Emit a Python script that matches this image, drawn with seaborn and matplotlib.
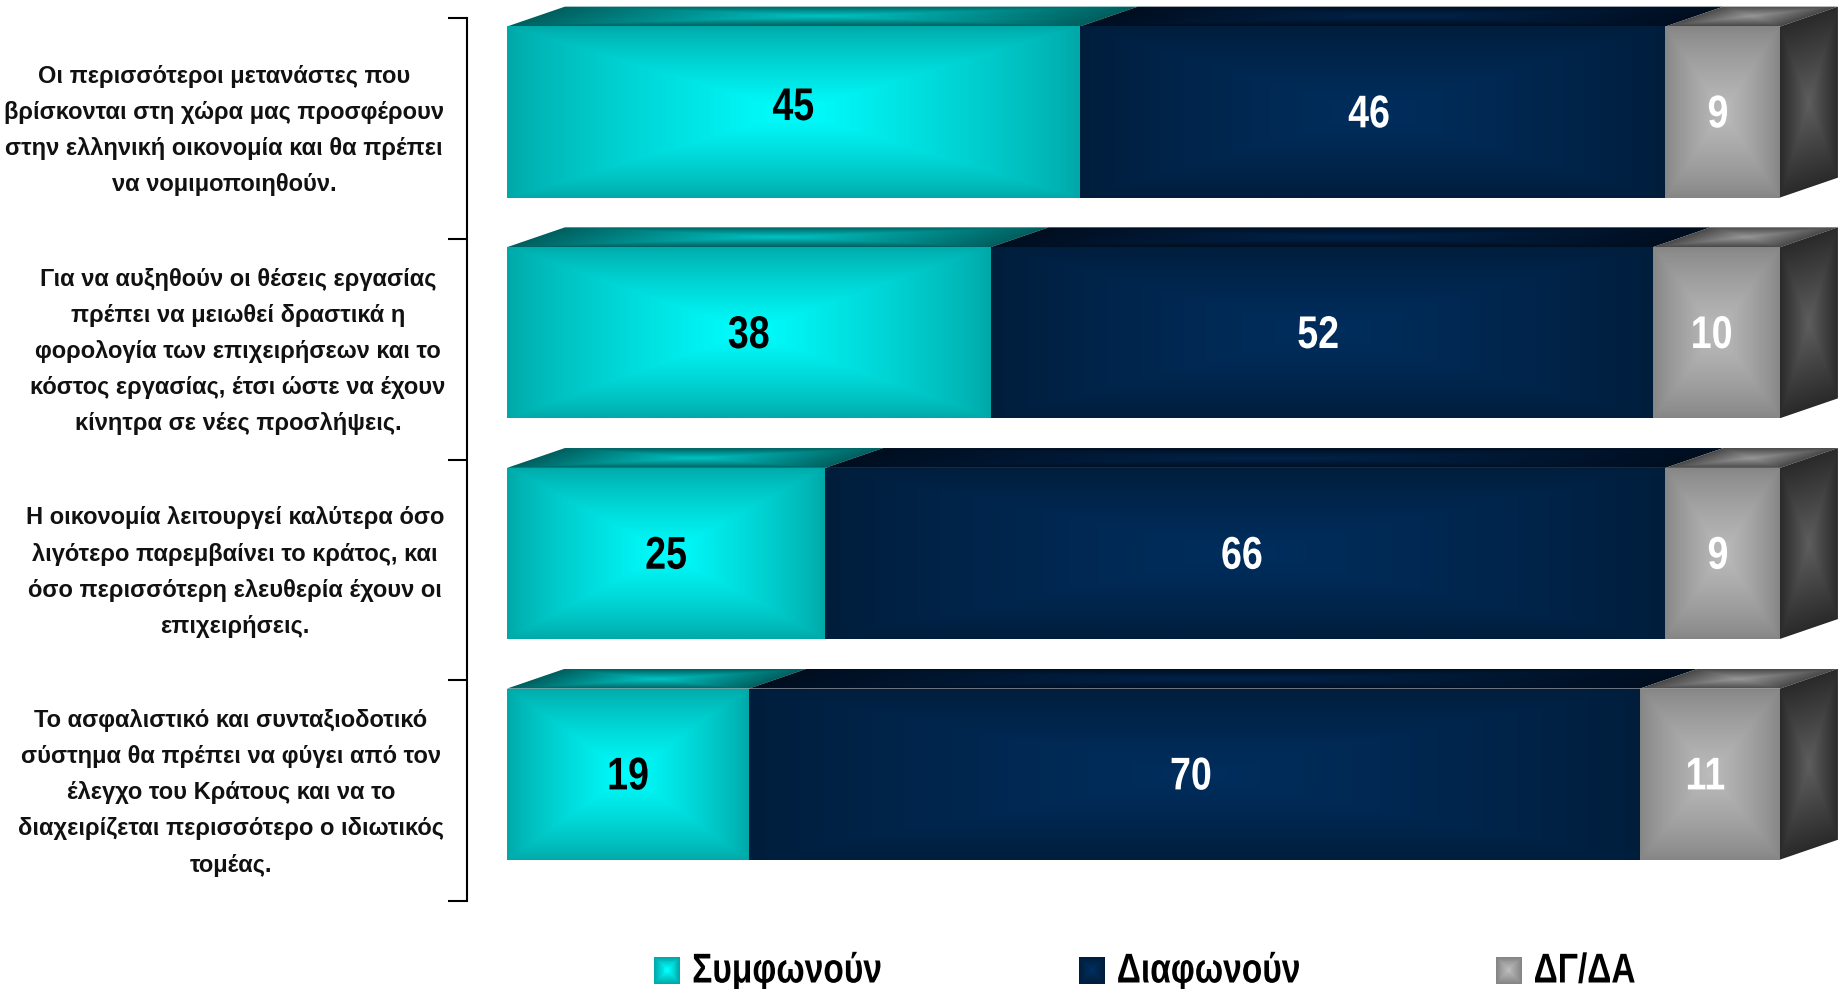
import matplotlib
matplotlib.use("Agg")
import matplotlib.pyplot as plt
from matplotlib.legend_handler import HandlerBase
from matplotlib.patches import Patch, Polygon, Rectangle
from matplotlib.patheffects import AbstractPathEffect
from matplotlib.transforms import Affine2D
from matplotlib.colors import to_rgb
import seaborn as sns
import numpy as np

# == DATA ==
statements = [
    "Οι περισσότεροι μετανάστες που\nβρίσκονται στη χώρα μας προσφέρουν\nστην ελληνική οικονομία και θα πρέπει\nνα νομιμοποιηθούν.",
    "Για να αυξηθούν οι θέσεις εργασίας\nπρέπει να μειωθεί δραστικά η\nφορολογία των επιχειρήσεων και το\nκόστος εργασίας, έτσι ώστε να έχουν\nκίνητρα σε νέες προσλήψεις.",
    "Η οικονομία λειτουργεί καλύτερα όσο\nλιγότερο παρεμβαίνει το κράτος, και\nόσο περισσότερη ελευθερία έχουν οι\nεπιχειρήσεις.",
    "Το ασφαλιστικό και συνταξιοδοτικό\nσύστημα θα πρέπει να φύγει από τον\nέλεγχο του Κράτους και να το\nδιαχειρίζεται περισσότερο ο ιδιωτικός\nτομέας.",
]
agree = [45, 38, 25, 19]
disagree = [46, 52, 66, 70]
dont_know = [9, 10, 9, 11]

series_names = ["Συμφωνούν", "Διαφωνούν", "ΔΓ/ΔΑ"]
series_values = [agree, disagree, dont_know]

# == STYLE ==
# (edge, centre) of each gradient
FRONT = [("#00a8a8", "#00ffff"), ("#001d3b", "#002e5e"), ("#858585", "#bcbcbc")]
TOP = [("#005f5f", "#00c4c4"), ("#000e20", "#00234a"), ("#484848", "#989898")]
SIDE = ("#2a2a2a", "#5e5e5e")
TEXT_COLORS = ["black", "white", "white"]
VALUE_NUDGE_X = [0.0, -0.27, -0.37]  # data units, per series
LABEL_CENTRES = [224, 238, 235, 231]  # px, left labels are not on one centre line

# 3D depth of the bars, in data units
DEPTH_X = 4.55
DEPTH_Y = 0.09


class Condense(AbstractPathEffect):
    # squeeze the glyphs sideways, there is no narrow bold font installed
    def __init__(self, factor, anchor="center"):
        super().__init__()
        self.factor = factor
        self.anchor = anchor

    def draw_path(self, renderer, gc, tpath, affine, rgbFace=None):
        box = tpath.get_extents()
        cx = box.x0 if self.anchor == "left" else (box.x0 + box.x1) / 2
        squeeze = Affine2D().translate(-cx, 0).scale(self.factor, 1).translate(cx, 0)
        renderer.draw_path(gc, tpath, squeeze + affine, rgbFace)


def blend(edge, centre, t):
    edge = np.array(to_rgb(edge))
    centre = np.array(to_rgb(centre))
    return edge + (centre - edge) * t[..., None]


def face(ax, corners, colors, power=1.0, n=160):
    """Fill a parallelogram with a rectangular gradient, clipped to its outline."""
    corners = np.array(corners, dtype=float)
    a, b, d = corners[0], corners[1], corners[3]
    xmin, ymin = corners.min(axis=0)
    xmax, ymax = corners.max(axis=0)
    gx, gy = np.meshgrid(np.linspace(xmin, xmax, n), np.linspace(ymin, ymax, n))
    m = np.linalg.inv(np.column_stack([b - a, d - a]))
    u = m[0, 0] * (gx - a[0]) + m[0, 1] * (gy - a[1])
    v = m[1, 0] * (gx - a[0]) + m[1, 1] * (gy - a[1])
    t = 1 - np.clip(np.maximum(np.abs(2 * u - 1), np.abs(2 * v - 1)), 0, 1)
    img = ax.imshow(blend(colors[0], colors[1], t ** power), extent=(xmin, xmax, ymax, ymin),
                    aspect="auto", interpolation="bilinear", origin="upper", zorder=3)
    outline = Polygon(corners, closed=True, facecolor="none", edgecolor="none")
    ax.add_patch(outline)
    outline.set_clip_on(False)
    img.set_clip_box(ax.figure.bbox)
    img.set_clip_path(outline)


class GradientSquare(HandlerBase):
    # legend key made of concentric squares
    def __init__(self, colors):
        super().__init__()
        self.colors = colors

    def create_artists(self, legend, orig_handle, xdescent, ydescent, width, height, fontsize, trans):
        artists = []
        steps = 14
        for i in range(steps):
            f = 1 - i / steps
            t = np.array(i / (steps - 1))
            w, h = width * f, height * f
            artists.append(Rectangle((xdescent + (width - w) / 2, ydescent + (height - h) / 2), w, h,
                                     facecolor=blend(self.colors[0], self.colors[1], t), edgecolor="none",
                                     transform=trans))
        return artists


sns.set_theme(style="white")
plt.rcParams["font.family"] = ["Liberation Sans", "DejaVu Sans"]

W, H = 1840, 989
fig = plt.figure(figsize=(W / 100, H / 100), dpi=100)
ax = fig.add_axes([507 / W, (H - 901) / H, 1273 / W, 883 / H])

# Stacked bars
lefts = np.zeros(len(statements))
for values, colors in zip(series_values, FRONT):
    sns.barplot(x=values, y=statements, left=lefts, color=colors[1], width=0.775, orient="h",
                saturation=1, ax=ax)
    lefts = lefts + np.array(values)
bars = list(ax.patches)

# Boundary ticks sit 16 px below the bars because of the 3D floor
boundaries = np.array([-0.426, 0.575, 1.575, 2.575, 3.575])
ax.set_xlim(0, 100)
ax.set_ylim(boundaries[-1], boundaries[0])

for j in range(len(series_values)):
    for i in range(len(statements)):
        bar = bars[j * len(statements) + i]
        bar.set_visible(False)
        l, r = bar.get_x(), bar.get_x() + bar.get_width()
        top, bottom = bar.get_y(), bar.get_y() + bar.get_height()
        face(ax, [(l, top), (r, top), (r, bottom), (l, bottom)], FRONT[j], power=0.8)
        face(ax, [(l, top), (r, top), (r + DEPTH_X, top - DEPTH_Y), (l + DEPTH_X, top - DEPTH_Y)], TOP[j])
        if j == len(series_values) - 1:
            face(ax, [(r, top), (r + DEPTH_X, top - DEPTH_Y), (r + DEPTH_X, bottom - DEPTH_Y), (r, bottom)], SIDE)
        dy = -0.018 if (i == 0 and j == 0) else 0.015
        ax.text((l + r) / 2 + VALUE_NUDGE_X[j], (top + bottom) / 2 + dy, str(series_values[j][i]),
                ha="center", va="center", color=TEXT_COLORS[j], fontsize=33, fontweight="bold", zorder=5,
                path_effects=[Condense(0.82)])

ax.set_xlim(0, 100)
ax.set_ylim(boundaries[-1], boundaries[0])

# Axis
sns.despine(ax=ax, top=True, right=True, bottom=True)
ax.spines["left"].set_position(("outward", 28.8))
ax.spines["left"].set_color("black")
ax.spines["left"].set_linewidth(1.5)
ax.set_xticks([])
ax.set_xlabel("")
ax.set_yticks(boundaries)
ax.set_yticklabels([])
ax.tick_params(axis="y", length=14, width=1.5, color="black", left=True)
ax.set_ylabel("")
ax.patch.set_alpha(0)

# Category labels
for i, text in enumerate(statements):
    ax.text((LABEL_CENTRES[i] - 507) / 1273, (boundaries[i] + boundaries[i + 1]) / 2 + 0.01, text,
            transform=ax.get_yaxis_transform(), ha="center", va="center", fontsize=17, fontweight="bold",
            color="#111111", linespacing=1.73)

# Legend
handles = [Patch(label=name) for name in series_names]
leg = fig.legend(handles=handles, labels=series_names, loc="center", bbox_to_anchor=(1157 / W, (H - 971) / H),
                 ncol=3, frameon=False, columnspacing=3.63, handlelength=0.62, handleheight=0.62, handletextpad=0.28,
                 prop={"weight": "bold", "size": 30},
                 handler_map={handles[i]: GradientSquare(FRONT[i]) for i in range(3)})
for label in leg.get_texts():
    label.set_color("black")
    label.set_path_effects([Condense(0.805, anchor="left")])

fig.savefig("out.png", dpi=100)
